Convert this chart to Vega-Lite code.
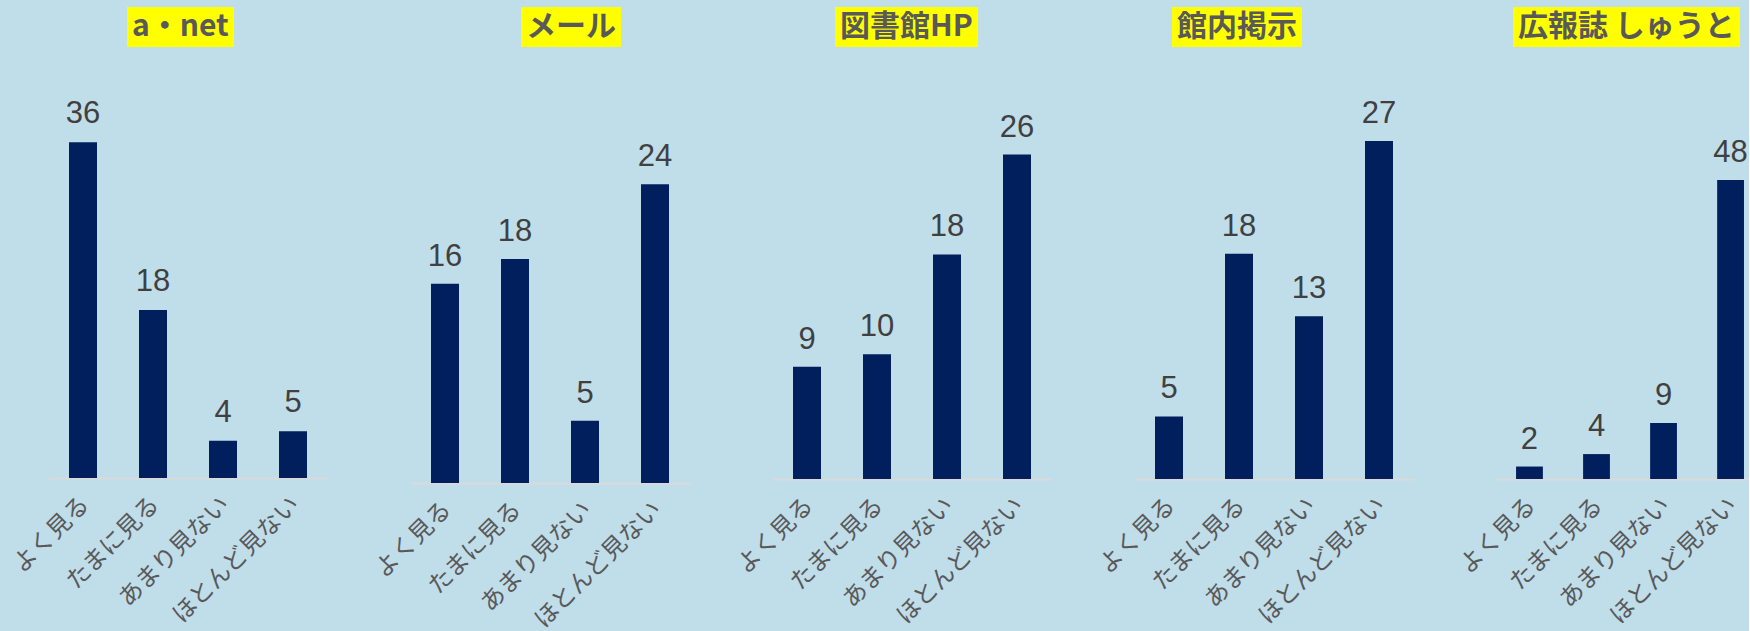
{
  "$schema": "https://vega.github.io/schema/vega-lite/v6.json",
  "background": "#C0DDEA",
  "padding": {"left": 8, "top": 7, "right": 0, "bottom": 0},
  "data": {"values": [
    {"panel": "a・net", "category": "よく見る", "value": 36},
    {"panel": "a・net", "category": "たまに見る", "value": 18},
    {"panel": "a・net", "category": "あまり見ない", "value": 4},
    {"panel": "a・net", "category": "ほとんど見ない", "value": 5},
    {"panel": "メール", "category": "よく見る", "value": 16},
    {"panel": "メール", "category": "たまに見る", "value": 18},
    {"panel": "メール", "category": "あまり見ない", "value": 5},
    {"panel": "メール", "category": "ほとんど見ない", "value": 24},
    {"panel": "図書館HP", "category": "よく見る", "value": 9},
    {"panel": "図書館HP", "category": "たまに見る", "value": 10},
    {"panel": "図書館HP", "category": "あまり見ない", "value": 18},
    {"panel": "図書館HP", "category": "ほとんど見ない", "value": 26},
    {"panel": "館内掲示", "category": "よく見る", "value": 5},
    {"panel": "館内掲示", "category": "たまに見る", "value": 18},
    {"panel": "館内掲示", "category": "あまり見ない", "value": 13},
    {"panel": "館内掲示", "category": "ほとんど見ない", "value": 27},
    {"panel": "広報誌 しゅうと", "category": "よく見る", "value": 2},
    {"panel": "広報誌 しゅうと", "category": "たまに見る", "value": 4},
    {"panel": "広報誌 しゅうと", "category": "あまり見ない", "value": 9},
    {"panel": "広報誌 しゅうと", "category": "ほとんど見ない", "value": 48}
  ]},
  "spacing": 82,
  "bounds": "flush",
  "resolve": {
    "scale": {"x": "independent", "y": "independent", "color": "independent"},
    "legend": {"color": "independent"}
  },
  "config": {
    "view": {"stroke": null},
    "axisX": {
      "labelAngle": -45,
      "domainColor": "#D9D9D9",
      "domainWidth": 2,
      "ticks": false,
      "grid": false,
      "labelFontSize": 24,
      "labelColor": "#595959",
      "labelFont": "Noto Sans CJK JP",
      "labelPadding": 14,
      "labelOffset": -6,
      "labelLimit": 0,
      "title": null
    },
    "legend": {
      "orient": "none",
      "title": null,
      "fillColor": "#FFFF00",
      "padding": 5,
      "symbolSize": 1,
      "symbolOpacity": 0,
      "symbolStrokeWidth": 0,
      "labelOffset": -30,
      "labelFontSize": 30,
      "labelFont": "Noto Sans CJK JP",
      "labelFontWeight": "bold",
      "labelColor": "#595959",
      "labelLimit": 0
    },
    "text": {"font": "Liberation Sans", "fontSize": 31, "color": "#404040", "baseline": "alphabetic"}
  },
  "hconcat": [
    {
      "width": 280, "height": 417,
      "transform": [{"filter": "datum.panel === 'a・net'"}],
      "encoding": {
        "x": {"field": "category", "type": "nominal", "sort": ["よく見る", "たまに見る", "あまり見ない", "ほとんど見ない"], "scale": {"paddingInner": 0.6, "paddingOuter": 0.3}, "title": null},
        "y": {"field": "value", "type": "quantitative", "scale": {"domain": [0, 44.7], "nice": false}, "axis": null}
      },
      "layer": [
        {"mark": {"type": "bar"}, "encoding": {"color": {"datum": "a・net", "type": "nominal", "scale": {"range": ["#001F5C"]}, "legend": {"legendX": 79, "legendY": -54}}}},
        {"mark": {"type": "text", "dy": -19}, "encoding": {"text": {"field": "value", "type": "quantitative"}}}
      ]
    },
    {
      "width": 280, "height": 422,
      "transform": [{"filter": "datum.panel === 'メール'"}],
      "encoding": {
        "x": {"field": "category", "type": "nominal", "sort": ["よく見る", "たまに見る", "あまり見ない", "ほとんど見ない"], "scale": {"paddingInner": 0.6, "paddingOuter": 0.3}, "title": null},
        "y": {"field": "value", "type": "quantitative", "scale": {"domain": [0, 33.9], "nice": false}, "axis": null}
      },
      "layer": [
        {"mark": {"type": "bar"}, "encoding": {"color": {"datum": "メール", "type": "nominal", "scale": {"range": ["#001F5C"]}, "legend": {"legendX": 111, "legendY": -54}}}},
        {"mark": {"type": "text", "dy": -18}, "encoding": {"text": {"field": "value", "type": "quantitative"}}}
      ]
    },
    {
      "width": 280, "height": 418,
      "transform": [{"filter": "datum.panel === '図書館HP'"}],
      "encoding": {
        "x": {"field": "category", "type": "nominal", "sort": ["よく見る", "たまに見る", "あまり見ない", "ほとんど見ない"], "scale": {"paddingInner": 0.6, "paddingOuter": 0.3}, "title": null},
        "y": {"field": "value", "type": "quantitative", "scale": {"domain": [0, 33.5], "nice": false}, "axis": null}
      },
      "layer": [
        {"mark": {"type": "bar"}, "encoding": {"color": {"datum": "図書館HP", "type": "nominal", "scale": {"range": ["#001F5C"]}, "legend": {"legendX": 63, "legendY": -54}}}},
        {"mark": {"type": "text", "dy": -18}, "encoding": {"text": {"field": "value", "type": "quantitative"}}}
      ]
    },
    {
      "width": 280, "height": 418,
      "transform": [{"filter": "datum.panel === '館内掲示'"}],
      "encoding": {
        "x": {"field": "category", "type": "nominal", "sort": ["よく見る", "たまに見る", "あまり見ない", "ほとんど見ない"], "scale": {"paddingInner": 0.6, "paddingOuter": 0.3}, "title": null},
        "y": {"field": "value", "type": "quantitative", "scale": {"domain": [0, 33.4], "nice": false}, "axis": null}
      },
      "layer": [
        {"mark": {"type": "bar"}, "encoding": {"color": {"datum": "館内掲示", "type": "nominal", "scale": {"range": ["#001F5C"]}, "legend": {"legendX": 38, "legendY": -54}}}},
        {"mark": {"type": "text", "dy": -18}, "encoding": {"text": {"field": "value", "type": "quantitative"}}}
      ]
    },
    {
      "width": 253, "height": 418,
      "transform": [{"filter": "datum.panel === '広報誌 しゅうと'"}],
      "encoding": {
        "x": {"field": "category", "type": "nominal", "sort": ["よく見る", "たまに見る", "あまり見ない", "ほとんど見ない"], "scale": {"paddingInner": 0.6, "paddingOuter": 0.187, "align": 0.8}, "title": null},
        "y": {"field": "value", "type": "quantitative", "scale": {"domain": [0, 67.1], "nice": false}, "axis": null}
      },
      "layer": [
        {"mark": {"type": "bar"}, "encoding": {"color": {"datum": "広報誌 しゅうと", "type": "nominal", "scale": {"range": ["#001F5C"]}, "legend": {"legendX": 17, "legendY": -54}}}},
        {"mark": {"type": "text", "dy": -18}, "encoding": {"text": {"field": "value", "type": "quantitative"}}}
      ]
    }
  ]
}
